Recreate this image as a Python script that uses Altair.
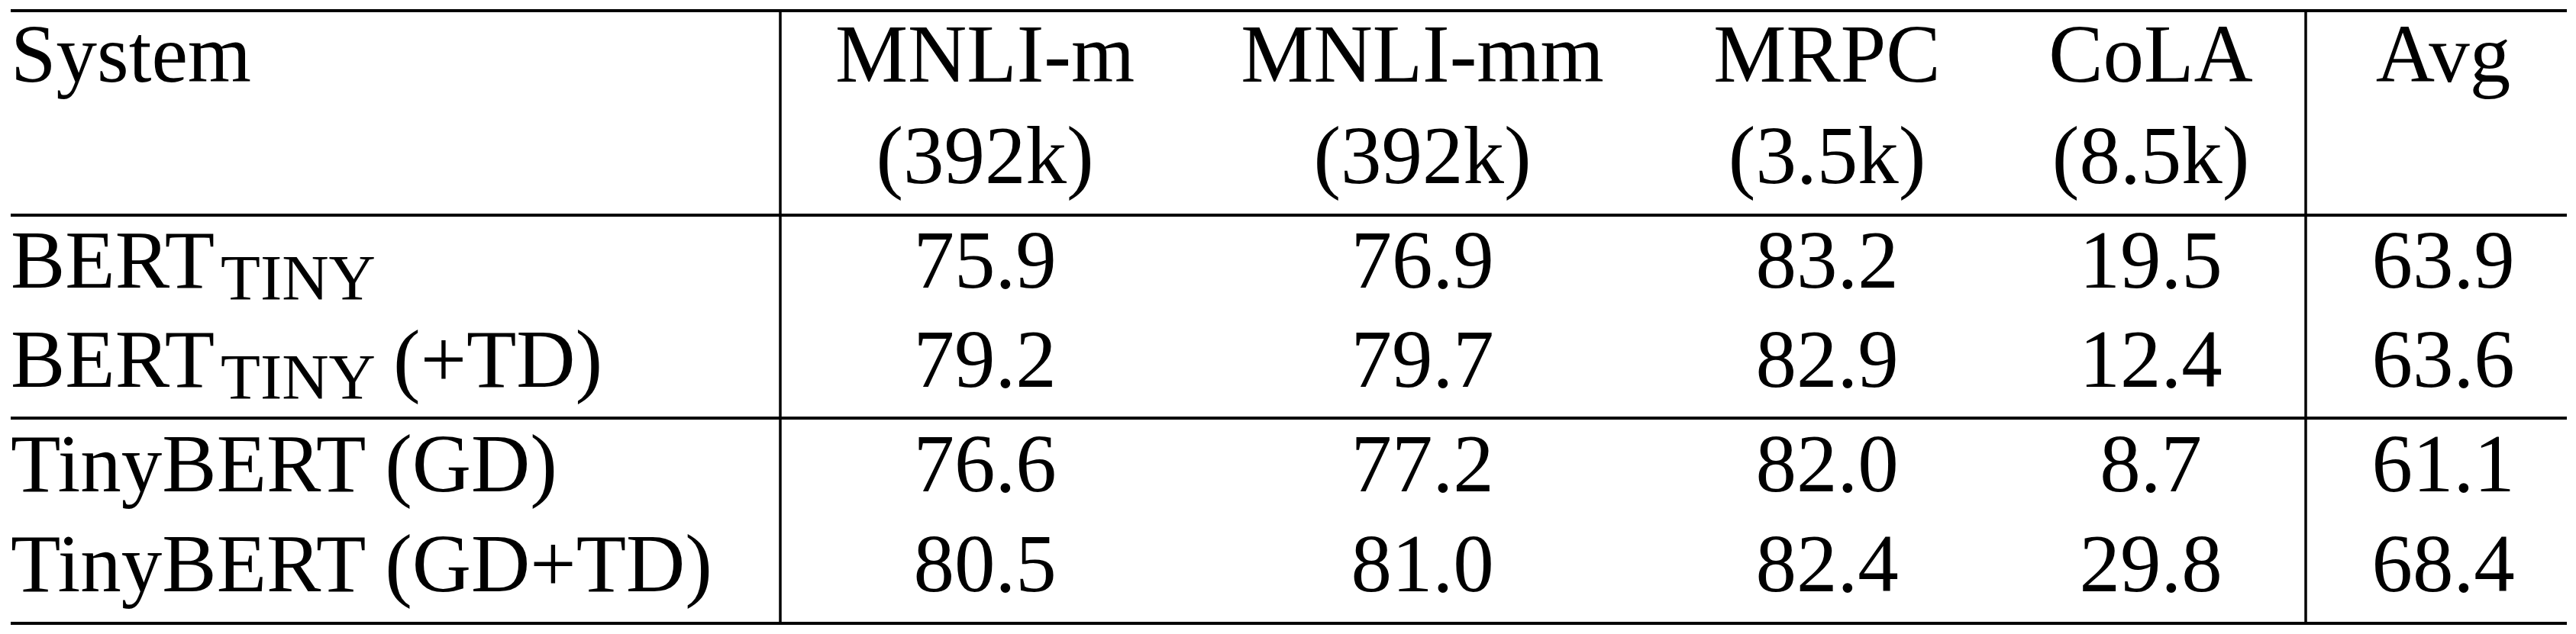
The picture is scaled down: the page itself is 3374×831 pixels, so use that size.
import altair as alt
import pandas as pd

# ---------------- data ----------------
systems = ["BERT", "BERT", "TinyBERT (GD)", "TinyBERT (GD+TD)"]
system_sub = ["TINY", "TINY", "", ""]
system_suffix = ["", "(+TD)", "", ""]
header_line1 = ["MNLI-m", "MNLI-mm", "MRPC", "CoLA"]
header_line2 = ["(392k)", "(392k)", "(3.5k)", "(8.5k)"]
mnli_m = [75.9, 79.2, 76.6, 80.5]
mnli_mm = [76.9, 79.7, 77.2, 81.0]
mrpc = [83.2, 82.9, 82.0, 82.4]
cola = [19.5, 12.4, 8.7, 29.8]
avg = [63.9, 63.6, 61.1, 68.4]

# ---------------- layout (image pixel coordinates) ----------------
W, H, M = 3358, 815, 8
FONT = "Liberation Serif"
FS = 107
SUB_FS = 85
SYS_X = 14
COL_X = [1290, 1863, 2393, 2817]   # centres of the four task columns
AVG_X = 3200
HEAD_Y = [107, 240]
ROW_Y = [377, 507, 644, 775]
HRULE_Y = [14, 282, 548, 817]
VRULE_X = [1022, 3020]
LEFT, RIGHT = 14, 3362

xs = alt.Scale(domain=[M, M + W], range=[0, W])
ys = alt.Scale(domain=[M, M + H], range=[0, H])

cells = []
cells.append(dict(x=SYS_X, y=HEAD_Y[0], t="System", a="left"))
for i, c in enumerate(COL_X):
    cells.append(dict(x=c, y=HEAD_Y[0], t=header_line1[i], a="center"))
    cells.append(dict(x=c, y=HEAD_Y[1], t=header_line2[i], a="center"))
cells.append(dict(x=AVG_X, y=HEAD_Y[0], t="Avg", a="center"))
for r in range(4):
    cells.append(dict(x=SYS_X, y=ROW_Y[r], t=systems[r], a="left"))
    for c, series in zip(COL_X, [mnli_m, mnli_mm, mrpc, cola]):
        cells.append(dict(x=c, y=ROW_Y[r], t=f"{series[r]:.1f}", a="center"))
    cells.append(dict(x=AVG_X, y=ROW_Y[r], t=f"{avg[r]:.1f}", a="center"))

df = pd.DataFrame(cells)
sub_df = pd.DataFrame([dict(x=SYS_X, y=ROW_Y[r], t=system_sub[r]) for r in range(4) if system_sub[r]])
suf_df = pd.DataFrame([dict(x=SYS_X, y=ROW_Y[r], t=system_suffix[r]) for r in range(4) if system_suffix[r]])
hr_df = pd.DataFrame([dict(y=y, x=LEFT, x2=RIGHT) for y in HRULE_Y])
vr_df = pd.DataFrame([dict(x=x, y=HRULE_Y[0], y2=HRULE_Y[-1]) for x in VRULE_X])

X = alt.X("x:Q", scale=xs, axis=None)
Y = alt.Y("y:Q", scale=ys, axis=None)

left_txt = alt.Chart(df[df.a == "left"]).mark_text(
    align="left", baseline="alphabetic", font=FONT, fontSize=FS, color="black"
).encode(x=X, y=Y, text="t:N")

center_txt = alt.Chart(df[df.a == "center"]).mark_text(
    align="center", baseline="alphabetic", font=FONT, fontSize=FS, color="black"
).encode(x=X, y=Y, text="t:N")

sub_txt = alt.Chart(sub_df).mark_text(
    align="left", baseline="alphabetic", font=FONT, fontSize=SUB_FS, color="black", dx=275, dy=16
).encode(x=X, y=Y, text="t:N")

suf_txt = alt.Chart(suf_df).mark_text(
    align="left", baseline="alphabetic", font=FONT, fontSize=FS, color="black", dx=501
).encode(x=X, y=Y, text="t:N")

hrules = alt.Chart(hr_df).mark_rule(color="black", strokeWidth=4).encode(
    x=X, x2="x2:Q", y=Y
)
vrules = alt.Chart(vr_df).mark_rule(color="black", strokeWidth=3.5).encode(
    x=X, y=Y, y2="y2:Q"
)

chart = alt.layer(hrules, vrules, left_txt, center_txt, sub_txt, suf_txt).properties(
    width=W, height=H, padding=0, autosize=alt.AutoSizeParams(type="none"), background="white"
).configure_view(stroke=None)

chart.save("out.html", embed_options={"renderer": "svg", "actions": False})
